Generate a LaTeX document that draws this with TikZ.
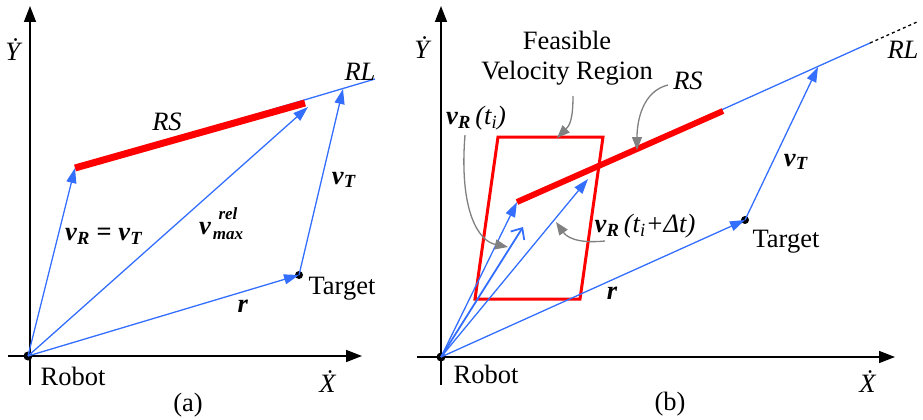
\documentclass[tikz,border=0pt]{standalone}
\usepackage{amsmath}
\usepackage{fontspec}
\setmainfont{Liberation Serif}
\newfontfamily\figfont{Liberation Serif}
\usetikzlibrary{arrows.meta}
\definecolor{vecblue}{RGB}{51,110,255}
\definecolor{rsred}{RGB}{255,0,0}
\definecolor{notegray}{RGB}{128,128,128}
\newcommand{\bvi}[1]{\textbf{\textit{#1}}}
\newcommand{\vsub}[1]{\bvi{v}\textsubscript{\bvi{#1}}}

\begin{document}
\begin{tikzpicture}[x=1pt,y=-1pt,font=\figfont\fontsize{26.5}{30}\selectfont,
  axis/.style={line width=1.6pt,-{Triangle[length=16pt,width=12pt]}},
  vec/.style={draw=vecblue,line width=1.3pt,-{Triangle[length=15pt,width=10pt,fill=vecblue]}},
  openvec/.style={draw=vecblue,line width=1.8pt,-{Straight Barb[length=9pt,width=16pt]}},
  rl/.style={draw=vecblue,line width=1.3pt},
  rs/.style={draw=rsred,line width=7pt},
  fvr/.style={draw=rsred,line width=3pt,line join=miter},
  note/.style={draw=notegray,line width=1.3pt,-{Triangle[length=13pt,width=10pt,fill=notegray]}},
  dot/.style={circle,fill=black,inner sep=0pt,minimum size=9pt},
  lbl/.style={inner sep=0pt},
  scriptlbl/.style={inner sep=0pt,font=\figfont\fontsize{17}{18}\selectfont}]
\useasboundingbox (0,0) rectangle (923,420);

% ---------------- (a)
\coordinate (oa) at (28,356);
\coordinate (ya) at (30,6);   \coordinate (ya0) at (30,385);
\coordinate (xa) at (362,356); \coordinate (xa0) at (8,356);
\draw[axis] (ya0) -- (ya);
\draw[axis] (xa0) -- (xa);
\node[dot] (robotA) at (oa) {};
\node[dot,minimum size=8pt] (targetA) at (299,275) {};
\coordinate (rsA1) at (75,168); \coordinate (rsA2) at (305,103);
\coordinate (rlA) at (375,79);
\coordinate (vmaxA) at (308,107); \coordinate (vtA) at (343,89);
\draw[rl] (rsA1) -- (rlA);
\draw[rs] (rsA1) -- (rsA2);
\draw[vec] (robotA.center) -- (rsA1);
\draw[vec] (robotA.center) -- (vmaxA);
\draw[vec] (robotA.center) -- (targetA.center);
\draw[vec] (targetA.center) -- (vtA);
\node[lbl] (yAl) at (14,50) {\textit{\.{Y}}};
\node[lbl] (xAl) at (328,382) {\textit{\.{X}}};
\node[lbl] (robotAl) at (73,376) {Robot};
\node[lbl] (capA) at (188,405) {(a)};
\node[lbl] (rlAl) at (360,72) {\textit{RL}};
\node[lbl] (rsAl) at (167,122) {\textit{RS}};
\node[lbl] (vrAl) at (104,236) {\vsub{R} \textbf{=} \vsub{T}};
\node[lbl] (vmaxAl) at (205,229) {\bvi{v}};
\node[scriptlbl] (vmaxRel) at (228,214) {\bvi{rel}};
\node[scriptlbl] (vmaxMax) at (228,236) {\bvi{max}};
\node[lbl] (rAl) at (243,306) {\bvi{r}};
\node[lbl] (vtAl) at (344,180) {\vsub{T}};
\node[lbl] (targetAl) at (342,289) {Target};

% ---------------- (b)
\coordinate (ob) at (441,357);
\coordinate (yb) at (441,6);   \coordinate (yb0) at (441,385);
\coordinate (xb) at (895,357); \coordinate (xb0) at (417,357);
\draw[axis] (yb0) -- (yb);
\draw[axis] (xb0) -- (xb);
\node[dot] (robotB) at (ob) {};
\node[dot,minimum size=8pt] (targetB) at (745,220) {};
% feasible velocity region
\coordinate (fTL) at (498,137); \coordinate (fTR) at (603,137);
\coordinate (fBR) at (580,299); \coordinate (fBL) at (475,299);
\draw[fvr] (fTL) -- (fTR) -- (fBR) -- (fBL) -- cycle;
\coordinate (rsB1) at (517,202); \coordinate (rsB2) at (723,111);
\coordinate (rlB) at (870,43); \coordinate (rlB2) at (917,22);
\coordinate (vtB) at (818,67);
\coordinate (vmidB) at (523,227); \coordinate (vdtB) at (588,179);
\draw[rl] (rsB1) -- (rlB);
\draw[black,line width=1.3pt,dashed] (rlB) -- (rlB2);
\draw[rs,line width=6pt] (rsB1) -- (rsB2);
\draw[vec] (robotB.center) -- (rsB1);
\draw[openvec] (robotB.center) -- (vmidB);
\draw[vec] (robotB.center) -- (vdtB);
\draw[vec] (robotB.center) -- (targetB.center);
\draw[vec] (targetB.center) -- (vtB);
\node[lbl] (yBl) at (423,48) {\textit{\.{Y}}};
\node[lbl] (xBl) at (868,382) {\textit{\.{X}}};
\node[lbl] (robotBl) at (486,374) {Robot};
\node[lbl] (capB) at (670,404) {(b)};
\node[lbl] (rlBl) at (903,50) {\textit{RL}};
\node[lbl] (rsBl) at (688,81) {\textit{RS}};
\node[lbl,align=center] (fvrl) at (567,58) {Feasible\\Velocity Region};
\node[lbl] (vtiBl) at (476,118) {\vsub{R}\,\textit{(t\textsubscript{i})}};
\node[lbl] (vdtBl) at (645,226) {\vsub{R}\,\textit{(t\textsubscript{i}+Δt)}};
\node[lbl] (rBl) at (612,293) {\bvi{r}};
\node[lbl] (vtBl) at (796,162) {\vsub{T}};
\node[lbl] (targetBl) at (786,242) {Target};
% pointers
\coordinate (pF) at (573,96);  \coordinate (pFe) at (557,138);
\coordinate (pR) at (668,85);  \coordinate (pRe) at (637,150);
\coordinate (pV) at (465,135); \coordinate (pVe) at (508,247);
\coordinate (pD) at (605,241); \coordinate (pDe) at (556,222);
\draw[note] (pF) .. controls +(0,25) and +(12,-12) .. (pFe);
\draw[note] (pR) .. controls +(-25,6) and +(0,-30) .. (pRe);
\draw[note] (pV) .. controls +(-6,75) and +(-30,-6) .. (pVe);
\draw[note] (pD) .. controls +(-30,3) and +(10,14) .. (pDe);
\end{tikzpicture}
\end{document}
